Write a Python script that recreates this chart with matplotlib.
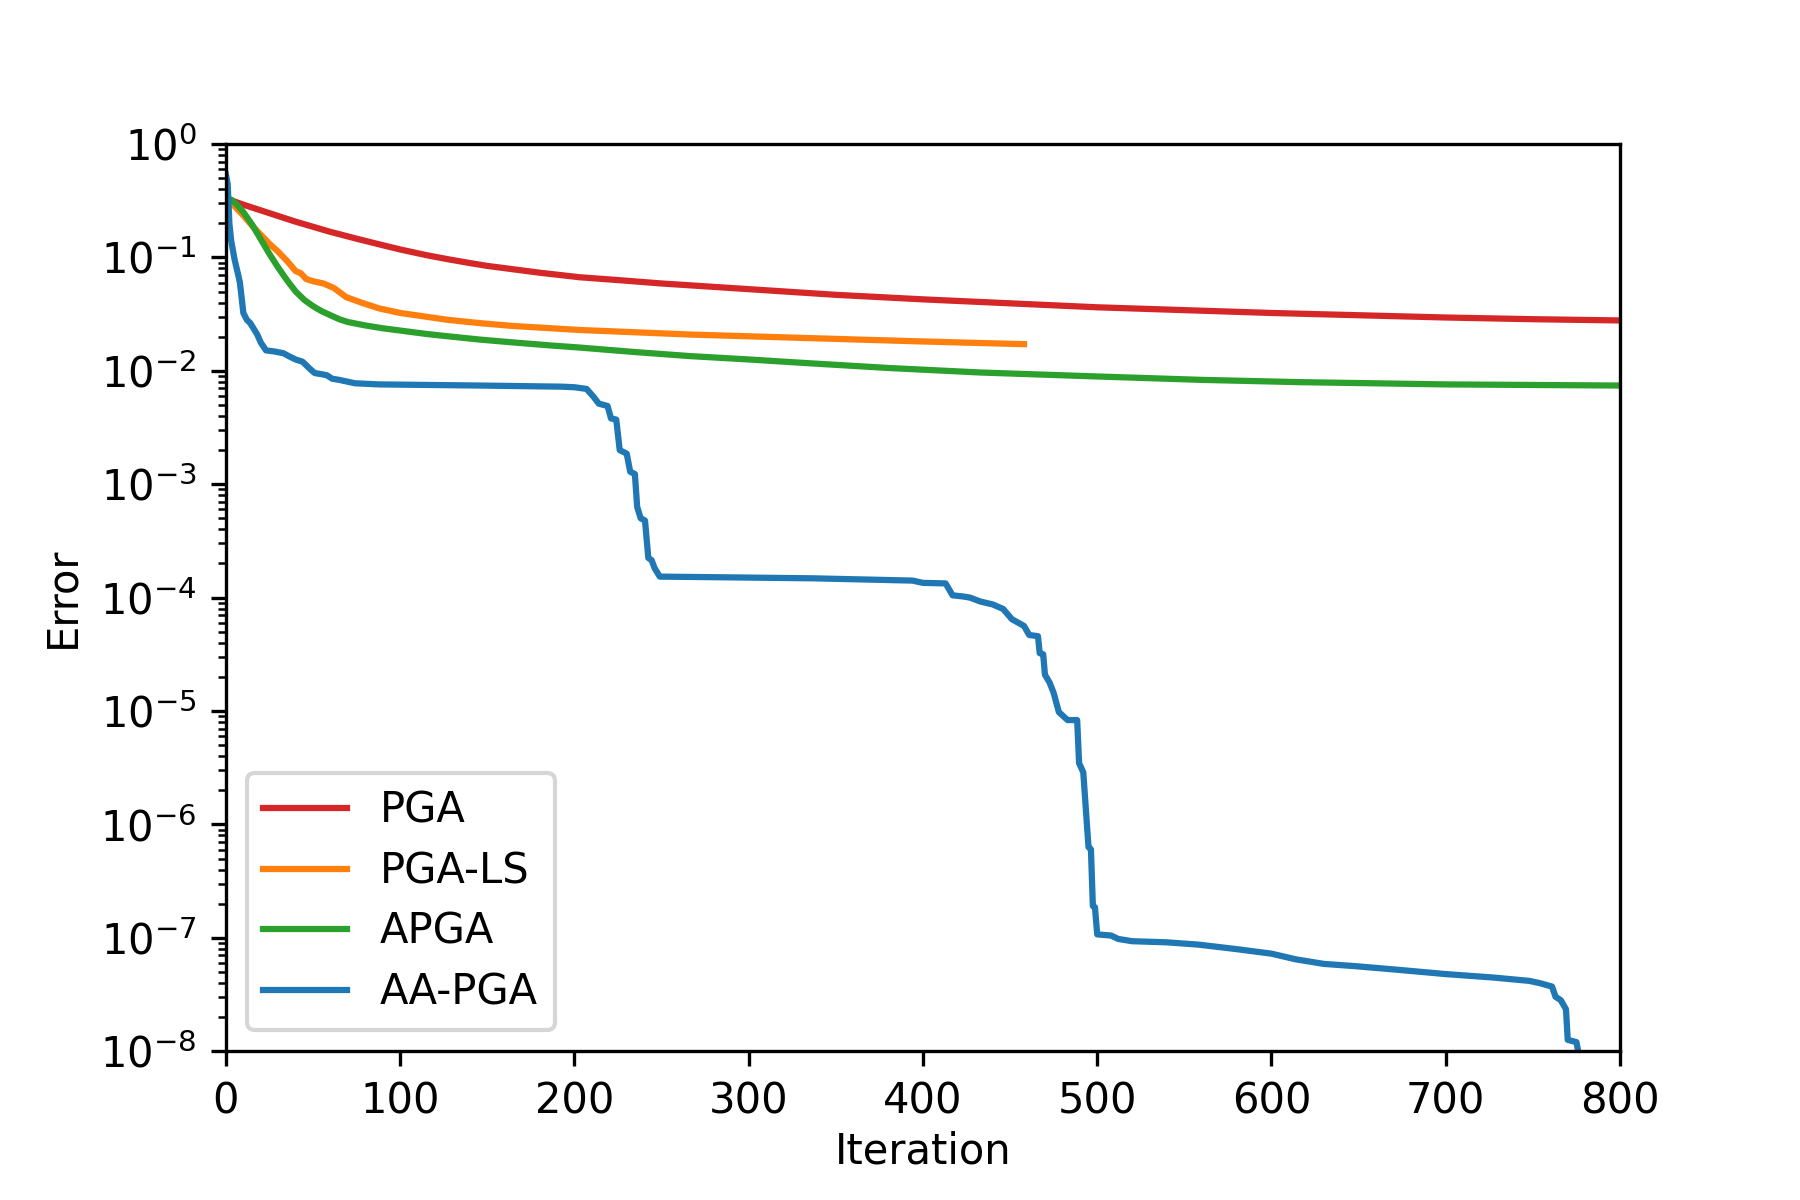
import numpy as np
import matplotlib
matplotlib.use("Agg")
import matplotlib.pyplot as plt

# error curves, values (log10 of error)
pga_it = [0, 10, 20, 30, 40, 50, 60, 75, 88, 100, 115, 127, 140, 150, 165, 180, 203,
          225, 250, 275, 300, 350, 400, 450, 500, 550, 600, 650, 700, 750, 800]
pga_log = [-0.48, -0.535, -0.585, -0.635, -0.685, -0.73, -0.775, -0.835, -0.885, -0.93,
           -0.98, -1.015, -1.05, -1.075, -1.105, -1.135, -1.175, -1.20, -1.23, -1.255,
           -1.28, -1.33, -1.37, -1.405, -1.44, -1.465, -1.49, -1.51, -1.53, -1.545, -1.556]

pgals_it = [0, 5, 10, 15, 20, 25, 30, 35, 40, 43, 46, 50, 56, 62, 69, 78, 88, 100, 127,
            146, 165, 203, 266, 331, 397, 433, 458]
pgals_log = [-0.48, -0.55, -0.63, -0.72, -0.80, -0.88, -0.95, -1.03, -1.12, -1.14, -1.19,
             -1.21, -1.23, -1.27, -1.35, -1.40, -1.45, -1.49, -1.55, -1.58, -1.605, -1.64,
             -1.68, -1.71, -1.74, -1.755, -1.765]

apga_it = [0, 3, 6, 10, 15, 20, 25, 30, 35, 40, 45, 50, 55, 60, 65, 70, 80, 90, 100, 115,
           127, 146, 165, 185, 203, 235, 266, 300, 331, 380, 433, 500, 560, 616, 700, 800]
apga_log = [-0.48, -0.49, -0.53, -0.60, -0.71, -0.84, -0.97, -1.09, -1.20, -1.30, -1.375,
            -1.43, -1.475, -1.51, -1.545, -1.57, -1.60, -1.625, -1.645, -1.675, -1.695,
            -1.725, -1.75, -1.775, -1.795, -1.835, -1.87, -1.90, -1.93, -1.975, -2.015,
            -2.05, -2.08, -2.10, -2.12, -2.13]

aapga_it = [0, 1, 2, 3, 5, 7, 8, 9, 10, 12, 14, 16, 18, 20, 23, 28, 33, 36, 40, 44, 48,
            51, 55, 58, 61, 65, 68, 74, 88, 146, 193, 200, 207, 211, 214, 219, 221, 224,
            226, 230, 232, 234.7, 236, 238, 240.5, 242.4, 244.3, 246, 249, 280, 337, 394,
            400, 413, 417, 423, 427, 433, 440, 446, 451, 458, 461, 466, 467, 469, 470,
            472.7, 475, 478, 483, 488.5, 489.6, 492, 495, 496.4, 497.5, 498.7, 500, 508,
            512, 520, 540, 558, 580, 600, 614, 630, 648, 671, 700, 727, 748, 754, 761,
            763, 766, 769, 770, 775, 776, 778]
aapga_log = [-0.27, -0.35, -0.70, -0.85, -1.02, -1.15, -1.22, -1.35, -1.49, -1.55, -1.58,
             -1.63, -1.68, -1.75, -1.82, -1.83, -1.845, -1.87, -1.90, -1.92, -1.98, -2.02,
             -2.03, -2.04, -2.07, -2.08, -2.09, -2.11, -2.12, -2.13, -2.14, -2.145, -2.16,
             -2.23, -2.29, -2.31, -2.42, -2.43, -2.70, -2.73, -2.89, -2.91, -3.20, -3.30,
             -3.32, -3.65, -3.67, -3.74, -3.815, -3.82, -3.83, -3.85, -3.87, -3.875, -3.98,
             -3.99, -4.00, -4.035, -4.06, -4.10, -4.19, -4.25, -4.33, -4.34, -4.49, -4.50,
             -4.68, -4.75, -4.84, -5.01, -5.08, -5.08, -5.46, -5.54, -6.20, -6.22, -6.72,
             -6.73, -6.97, -6.98, -7.01, -7.03, -7.04, -7.06, -7.10, -7.14, -7.19, -7.23,
             -7.25, -7.28, -7.32, -7.35, -7.38, -7.40, -7.43, -7.52, -7.55, -7.63, -7.90,
             -7.92, -8.0, -8.3]

fig = plt.figure(figsize=(6, 4), dpi=300)
ax = fig.add_subplot(111)
fig.subplots_adjust(left=0.1255, right=0.9, bottom=0.124, top=0.88)

ax.plot(pga_it, 10 ** np.array(pga_log), color='tab:red', label='PGA')
ax.plot(pgals_it, 10 ** np.array(pgals_log), color='tab:orange', label='PGA-LS')
ax.plot(apga_it, 10 ** np.array(apga_log), color='tab:green', label='APGA')
ax.plot(aapga_it, 10 ** np.array(aapga_log), color='tab:blue', label='AA-PGA')

ax.set_yscale('log')
ax.set_xlim(0, 800)
ax.set_ylim(1e-8, 1)
ax.set_xlabel('Iteration', labelpad=2)
ax.set_ylabel('Error')
ax.legend(loc='lower left', labelspacing=0.45)

fig.savefig('out.png', dpi=300)
